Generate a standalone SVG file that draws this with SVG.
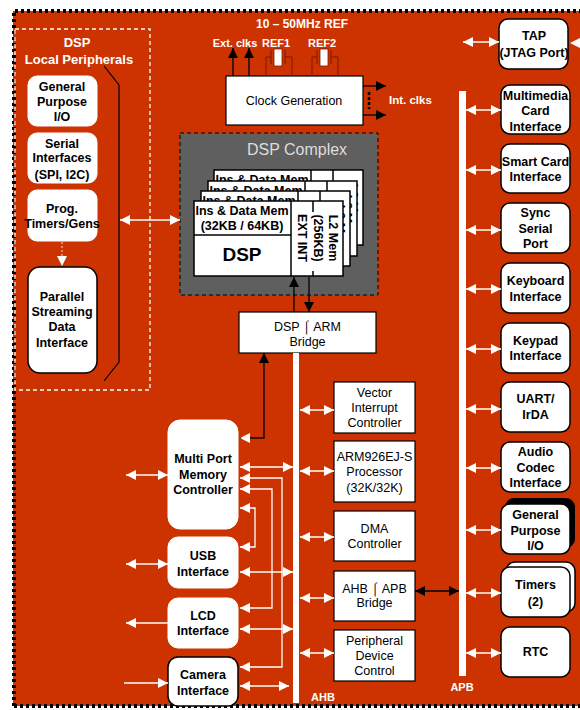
<svg xmlns="http://www.w3.org/2000/svg" width="580" height="710" viewBox="0 0 580 710">
<defs>
<style>
.b{font-family:"Liberation Sans",Arial,sans-serif;font-weight:bold;font-size:12.5px;fill:#000;text-anchor:middle}
.r{font-family:"Liberation Sans",Arial,sans-serif;font-size:12.5px;fill:#000;text-anchor:middle}
.w{font-family:"Liberation Sans",Arial,sans-serif;font-weight:bold;font-size:12px;fill:#fff;text-anchor:middle}
.rb{fill:#fff;stroke:#fff;stroke-width:1}
.rk{fill:#fff;stroke:#000;stroke-width:1.5}
.sq{fill:#fff;stroke:#000;stroke-width:1.2}
.wl{stroke:#fff;stroke-width:1.3;fill:none}
.kl{stroke:#000;stroke-width:1.3;fill:none}
.wd{marker-start:url(#wa);marker-end:url(#wa)}
.we{marker-end:url(#wa)}
.kd{marker-start:url(#ka);marker-end:url(#ka)}
.ke{marker-end:url(#ka)}
.wire{stroke:#7a1a00;stroke-width:1;fill:none}
</style>
<marker id="wa" viewBox="0 0 10 10" refX="10" refY="5" markerWidth="10" markerHeight="10" markerUnits="userSpaceOnUse" orient="auto-start-reverse"><path d="M0,0 L10,5 L0,10 z" fill="#fff"/></marker>
<marker id="ka" viewBox="0 0 10 10" refX="10" refY="5" markerWidth="10" markerHeight="10" markerUnits="userSpaceOnUse" orient="auto-start-reverse"><path d="M0,0 L10,5 L0,10 z" fill="#000"/></marker>
<g id="card">
<rect x="194" y="201" width="149" height="75" fill="#fff" stroke="#000" stroke-width="1.5"/>
<line x1="291" y1="201" x2="291" y2="276" stroke="#000" stroke-width="1.5"/>
<line x1="194" y1="235" x2="291" y2="235" stroke="#000" stroke-width="1.5"/>
<line x1="313" y1="201" x2="313" y2="212" stroke="#000" stroke-width="1.5"/>
<line x1="313" y1="271" x2="313" y2="276" stroke="#000" stroke-width="1.5"/>
<text class="b" x="242" y="215">Ins &amp; Data Mem</text>
<text class="b" x="242" y="230">(32KB / 64KB)</text>
<text class="b" x="242" y="261" style="font-size:19px">DSP</text>
<text class="b" transform="translate(302,238) rotate(90)" y="4.5">EXT INT</text>
<text class="b" transform="translate(318,238) rotate(90)" y="4.5">(256KB)</text>
<text class="b" transform="translate(333,238) rotate(90)" y="4.5">L2 Mem</text>
</g>
</defs>
<rect x="0" y="0" width="580" height="710" fill="#fff"/>
<rect x="13" y="11" width="567" height="695" fill="#cc3300"/>
<path d="M14,706 V11 H580" stroke="#000" stroke-width="4" stroke-dasharray="3,3" fill="none"/>
<path d="M14,706 H580" stroke="#000" stroke-width="4" stroke-dasharray="3,3" fill="none"/>

<g id="dsp-local-peripherals">
<rect x="15" y="29" width="135" height="361" fill="none" stroke="#fff" stroke-width="1.3" stroke-dasharray="4,3"/>
<text class="w" x="77" y="47" style="font-size:13px">DSP</text>
<text class="w" x="79" y="64" style="font-size:13px">Local Peripherals</text>
<path d="M104,66 L119,85 V362 L104,381" stroke="#000" stroke-width="1.2" fill="none"/>
</g>
<g id="lp-gpio"><rect class="rb" x="28" y="76" width="69" height="50" rx="9"/>
<text class="b" x="62" y="91">General</text><text class="b" x="62" y="106">Purpose</text><text class="b" x="62" y="121">I/O</text></g>
<g id="lp-serial"><rect class="rb" x="28" y="133" width="69" height="50" rx="9"/>
<text class="b" x="62" y="148">Serial</text><text class="b" x="62" y="162">Interfaces</text><text class="b" x="62" y="179">(SPI, I2C)</text></g>
<g id="lp-timers"><rect class="rb" x="28" y="190" width="69" height="51" rx="9"/>
<text class="b" x="62" y="213">Prog.</text><text class="b" x="62" y="228">Timers/Gens</text></g>
<g id="lp-parallel"><rect class="rk" x="28" y="267" width="69" height="106" rx="12"/>
<text class="b" x="62" y="301">Parallel</text><text class="b" x="62" y="316">Streaming</text><text class="b" x="62" y="331">Data</text><text class="b" x="62" y="347">Interface</text></g>

<g id="dsp-complex">
<rect x="180" y="133" width="198" height="162" fill="#5f5f5f" stroke="#000" stroke-width="1" stroke-dasharray="4,3"/>
<text x="297" y="155" style="font-family:'Liberation Sans',Arial,sans-serif;font-size:16px;fill:#ddd;text-anchor:middle">DSP Complex</text>
<use href="#card" transform="translate(20,-31)"/>
<use href="#card" transform="translate(14,-20)"/>
<use href="#card" transform="translate(7,-10)"/>
<use href="#card"/>
</g>

<g id="clock-generation">
<rect class="sq" x="226" y="76" width="137" height="49"/>
<text class="r" x="294" y="104.5">Clock Generation</text>
<text class="w" x="302" y="28">10 – 50MHz REF</text>
<text class="w" x="235" y="47" style="font-size:11px">Ext. clks</text>
<text class="w" x="276" y="47" style="font-size:11px">REF1</text>
<text class="w" x="322" y="47" style="font-size:11px">REF2</text>
<text class="w" x="389" y="104" style="font-size:11.5px;text-anchor:start">Int. clks</text>
<path class="wire" d="M266,76 V57 H271 M271,50 V64 M285,50 V64 M285,57 H292 V76"/>
<rect x="274" y="49" width="8" height="17" fill="#fff" stroke="#7a1a00" stroke-width="0.8"/>
<path class="wire" d="M312,76 V57 H317 M317,50 V64 M331,50 V64 M331,57 H338 V76"/>
<rect x="320" y="49" width="8" height="17" fill="#fff" stroke="#7a1a00" stroke-width="0.8"/>
</g>

<g id="dsp-arm-bridge"><rect class="sq" x="239" y="312" width="137" height="41"/>
<text class="r" x="307.5" y="330.5">DSP ⌠ ARM</text><text class="r" x="307.5" y="345.5">Bridge</text></g>

<g id="ahb-bus"><rect x="293" y="353" width="6" height="350" fill="#fff"/>
<text class="w" x="323" y="701" style="font-size:11px">AHB</text></g>
<g id="apb-bus"><rect x="459" y="91" width="7" height="585" fill="#fff"/>
<text class="w" x="462" y="691" style="font-size:11px">APB</text></g>

<g id="vic"><rect class="sq" x="334" y="382" width="81" height="51"/>
<text class="r" x="374.5" y="397">Vector</text><text class="r" x="374.5" y="412">Interrupt</text><text class="r" x="374.5" y="427">Controller</text></g>
<g id="arm"><rect class="sq" x="334" y="441" width="81" height="61"/>
<text class="r" x="374.5" y="461">ARM926EJ-S</text><text class="r" x="374.5" y="476">Processor</text><text class="r" x="374.5" y="492">(32K/32K)</text></g>
<g id="dma"><rect class="sq" x="334" y="511" width="81" height="50"/>
<text class="r" x="374.5" y="533">DMA</text><text class="r" x="374.5" y="548">Controller</text></g>
<g id="ahb-apb-bridge"><rect class="sq" x="334" y="571" width="81" height="50"/>
<text class="r" x="374.5" y="593">AHB ⌠ APB</text><text class="r" x="374.5" y="607">Bridge</text></g>
<g id="pdc"><rect class="sq" x="334" y="630" width="81" height="51"/>
<text class="r" x="374.5" y="645">Peripheral</text><text class="r" x="374.5" y="660">Device</text><text class="r" x="374.5" y="675">Control</text></g>

<g id="mpmc"><rect class="rb" x="168" y="420" width="70" height="109" rx="12"/>
<text class="b" x="203" y="463">Multi Port</text><text class="b" x="203" y="479">Memory</text><text class="b" x="203" y="494">Controller</text></g>
<g id="usb"><rect class="rb" x="168" y="537" width="70" height="51" rx="10"/>
<text class="b" x="203" y="560">USB</text><text class="b" x="203" y="576">Interface</text></g>
<g id="lcd"><rect class="rb" x="168" y="598" width="70" height="50" rx="10"/>
<text class="b" x="203" y="620">LCD</text><text class="b" x="203" y="635">Interface</text></g>
<g id="camera"><rect class="rk" x="168" y="657" width="70" height="49" rx="10"/>
<text class="b" x="203" y="679">Camera</text><text class="b" x="203" y="695">Interface</text></g>

<g id="tap"><rect class="rk" x="499" y="19" width="69" height="50" rx="9"/>
<text class="b" x="534" y="40">TAP</text><text class="b" x="534" y="57">(JTAG Port)</text></g>
<g id="mmc"><rect class="rk" x="501" y="85" width="69" height="49" rx="9"/>
<text class="b" x="535.5" y="99.5">Multimedia</text><text class="b" x="535.5" y="114.5">Card</text><text class="b" x="535.5" y="130.5">Interface</text></g>
<g id="smart-card"><rect class="rk" x="501" y="144" width="69" height="49" rx="9"/>
<text class="b" x="535.5" y="166">Smart Card</text><text class="b" x="535.5" y="181">Interface</text></g>
<g id="sync-serial"><rect class="rk" x="501" y="203" width="69" height="50" rx="9"/>
<text class="b" x="535.5" y="217">Sync</text><text class="b" x="535.5" y="233">Serial</text><text class="b" x="535.5" y="248">Port</text></g>
<g id="keyboard"><rect class="rk" x="501" y="263" width="69" height="50" rx="9"/>
<text class="b" x="535.5" y="285">Keyboard</text><text class="b" x="535.5" y="301">Interface</text></g>
<g id="keypad"><rect class="rk" x="501" y="323" width="69" height="50" rx="9"/>
<text class="b" x="535.5" y="345">Keypad</text><text class="b" x="535.5" y="360">Interface</text></g>
<g id="uart"><rect class="rk" x="501" y="382" width="69" height="50" rx="9"/>
<text class="b" x="535.5" y="403">UART/</text><text class="b" x="535.5" y="419">IrDA</text></g>
<g id="audio"><rect class="rk" x="501" y="442" width="69" height="50" rx="9"/>
<text class="b" x="535.5" y="456">Audio</text><text class="b" x="535.5" y="472">Codec</text><text class="b" x="535.5" y="487">Interface</text></g>
<g id="gpio"><rect x="505" y="498" width="70" height="50" rx="9" fill="#000"/>
<rect class="rk" x="501" y="504" width="69" height="50" rx="9"/>
<text class="b" x="535.5" y="519">General</text><text class="b" x="535.5" y="535">Purpose</text><text class="b" x="535.5" y="550">I/O</text></g>
<g id="timers"><rect class="rk" x="506" y="562" width="69" height="50" rx="9"/>
<rect class="rk" x="501" y="567" width="69" height="50" rx="9"/>
<text class="b" x="535.5" y="589">Timers</text><text class="b" x="535.5" y="606">(2)</text></g>
<g id="rtc"><rect class="rk" x="501" y="627" width="69" height="50" rx="9"/>
<text class="b" x="535.5" y="656">RTC</text></g>

<g id="connectors">
<!-- local peripherals -->
<line class="wl wd" x1="120" y1="220" x2="180" y2="220"/>
<line x1="62" y1="242" x2="62" y2="266" stroke="#f4b8a4" stroke-width="1.3" stroke-dasharray="2,2" marker-end="url(#wa)"/>
<!-- clock -->
<line class="kl ke" x1="233" y1="76" x2="233" y2="48"/>
<line class="kl ke" x1="249" y1="76" x2="249" y2="48"/>
<line class="kl ke" x1="363" y1="86" x2="386" y2="86"/>
<line class="kl ke" x1="363" y1="115" x2="386" y2="115"/>
<line x1="369" y1="92" x2="369" y2="109" stroke="#000" stroke-width="2.5" stroke-dasharray="3,2"/>
<!-- DSP complex to bridge -->
<line class="kl ke" x1="294" y1="312" x2="294" y2="277"/>
<line class="kl ke" x1="309" y1="277" x2="309" y2="312"/>
<!-- bridge to MPMC -->
<line class="kl ke" x1="264" y1="438" x2="264" y2="353"/>
<line class="kl we" x1="264.6" y1="438" x2="240" y2="438"/>
<!-- AHB peripherals -->
<line class="wl wd" x1="300" y1="410" x2="334" y2="410"/>
<line class="wl wd" x1="300" y1="471" x2="334" y2="471"/>
<line class="wl wd" x1="300" y1="537" x2="334" y2="537"/>
<line class="wl wd" x1="300" y1="598" x2="334" y2="598"/>
<line class="wl wd" x1="300" y1="653" x2="334" y2="653"/>
<line class="kl kd" x1="415" y1="591" x2="459" y2="591"/>
<!-- APB peripherals -->
<line class="wl wd" x1="463" y1="42" x2="499" y2="42"/>
<path d="M570,43 L580,38 L580,48 z" fill="#fff"/>
<line class="wl wd" x1="466" y1="110" x2="501" y2="110"/>
<line class="wl wd" x1="466" y1="170" x2="501" y2="170"/>
<line class="wl wd" x1="466" y1="230" x2="501" y2="230"/>
<line class="wl wd" x1="466" y1="289" x2="501" y2="289"/>
<line class="wl wd" x1="466" y1="349" x2="501" y2="349"/>
<line class="wl wd" x1="466" y1="409" x2="501" y2="409"/>
<line class="wl wd" x1="466" y1="468" x2="501" y2="468"/>
<line class="wl wd" x1="466" y1="530" x2="501" y2="530"/>
<line class="wl wd" x1="466" y1="593" x2="501" y2="593"/>
<line class="wl wd" x1="466" y1="653" x2="501" y2="653"/>
<!-- left external -->
<line class="wl wd" x1="126" y1="475" x2="168" y2="475"/>
<line class="wl wd" x1="126" y1="564" x2="168" y2="564"/>
<line class="wl we" x1="168" y1="623" x2="126" y2="623"/>
<line class="wl we" x1="124" y1="683" x2="168" y2="683"/>
<!-- MPMC / USB / LCD / Camera to AHB -->
<line class="wl wd" x1="240" y1="467" x2="293" y2="467"/>
<line class="wl wd" x1="240" y1="572" x2="293" y2="572"/>
<line class="wl wd" x1="240" y1="629" x2="293" y2="629"/>
<line class="wl wd" x1="240" y1="686" x2="289" y2="686"/>
<path class="wl wd" d="M240,478 H282 V667 H240"/>
<path class="wl wd" d="M240,489 H272 V608 H240"/>
<path class="wl wd" d="M240,508 H255 V547 H240"/>
</g>
</svg>
